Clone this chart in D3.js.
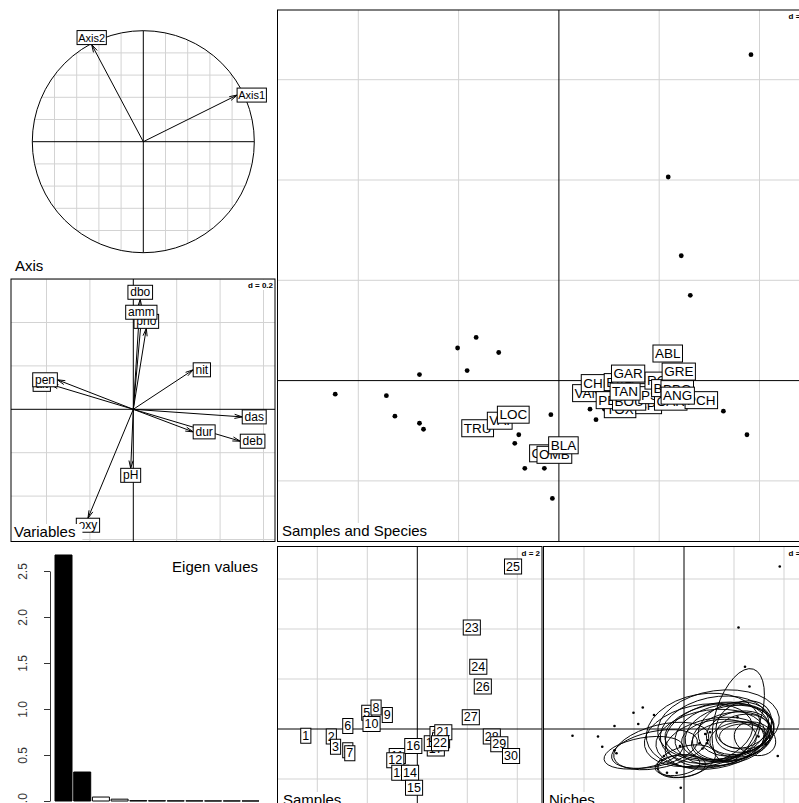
<!DOCTYPE html>
<html><head><meta charset="utf-8">
<script src="https://cdn.jsdelivr.net/npm/d3@7"></script>
<style>
body{margin:0;background:#fff;}
svg{display:block;font-family:"Liberation Sans",Arial,sans-serif;}
</style></head><body>
<svg id="chart" width="799" height="803"></svg>
<script>
// ---- data -------------------------------------------------------------
// projection of the PCA axes on the niche axes (unit circle)
const axisNames = ["Axis1", "Axis2"];
const axisX = [0.845, -0.465];
const axisY = [0.42, 0.875];

// environmental variables (canonical weights)
const varNames = ["das","alt","pen","deb","pH","dur","pho","nit","amm","oxy","dbo"];
const varX = [0.502,-0.382,-0.350,0.493,-0.012,0.276,0.060,0.276,0.037,-0.209,0.032];
const varY = [-0.035,0.115,0.136,-0.147,-0.272,-0.104,0.373,0.182,0.415,-0.502,0.507];

// eigen values
const eigenValues = [2.674,0.315,0.043,0.02,0.004,0.003,0.002,0.002,0.001,0.001,0.0005];
const eigenTicks = [0, 0.5, 1.0, 1.5, 2.0, 2.5];

// sites (samples)
const sampleNames = ["1","2","3","4","5","6","7","8","9","10","11","12","13","14","15",
  "16","17","18","19","20","21","22","23","24","25","26","27","28","29","30"];
const sampleX = [-4.46,-3.44,-3.27,-2.78,-2.02,-2.78,-2.70,-1.65,-1.20,-1.83,-0.80,-0.88,-0.68,-0.29,-0.13,
  -0.16,0.74,0.62,0.85,0.95,1.04,0.91,2.18,2.44,3.83,2.62,2.14,2.98,3.28,3.75];
const sampleY = [-0.27,-0.30,-0.71,-0.85,0.65,0.12,-0.97,0.86,0.56,0.20,-1.08,-1.25,-1.75,-1.75,-2.35,
  -0.68,-0.78,-0.57,-0.20,-0.45,-0.13,-0.57,4.06,2.49,6.50,1.70,0.47,-0.30,-0.61,-1.08];

// fish species (niche positions)
const speciesNames = ["CHA","TRU","VAI","LOC","OMB","BLA","HOT","TOX","VAN","CHE","BAR","SPI","GOU","BRO",
  "PER","BOU","PSO","ROT","CAR","TAN","BCO","PCH","GRE","GAR","BBO","ABL","ANG"];
const speciesX = [-0.26,-1.62,-1.18,-0.91,-0.09,0.09,1.42,1.22,0.58,0.77,1.22,1.79,1.82,1.62,
  1.06,1.40,1.92,2.04,2.23,1.32,2.18,2.84,2.39,1.38,2.36,2.17,2.37];
const speciesY = [-1.45,-0.95,-0.80,-0.68,-1.48,-1.29,-0.09,-0.57,-0.25,-0.05,-0.03,-0.49,-0.19,-0.23,
  -0.39,-0.42,-0.29,0.00,-0.42,-0.22,-0.15,-0.39,0.18,0.14,-0.17,0.54,-0.30];
// niche ellipses: semi-axes and orientation (degrees)
const nicheRx = [0.90,1.60,1.75,1.95,0.95,1.20,2.20,2.00,2.20,2.30,2.20,1.50,1.80,2.00,
  2.20,1.50,1.60,1.50,1.20,2.10,1.30,0.85,1.15,2.45,1.10,1.95,0.95];
const nicheRy = [0.40,0.60,0.70,0.85,0.45,0.60,1.10,1.00,1.20,1.45,1.30,0.80,1.10,1.20,
  1.15,0.80,0.95,1.05,0.70,1.25,0.85,0.65,0.90,1.40,0.75,0.90,0.50];
const nicheAngle = [8,10,12,14,5,15,8,10,12,10,12,6,12,10,8,5,10,15,5,12,12,-20,25,8,10,72,0];

// ---- helpers ----------------------------------------------------------
const svg = d3.select("#chart");
const FONT = '"Liberation Sans", Arial, sans-serif';
const GRID = "#d3d3d3";
let clipId = 0;

function measure(txt, size, weight) {
  const t = svg.append("text").attr("font-size", size).attr("font-weight", weight || "normal").text(txt);
  const w = t.node().getComputedTextLength();
  t.remove();
  return w;
}

// boxed label centred on (cx, cy)
function boxLabel(g, cx, cy, txt, size, pad, h) {
  const w = measure(txt, size) + 2 * pad;
  g.append("rect").attr("x", cx - w / 2).attr("y", cy - h / 2).attr("width", w).attr("height", h)
    .attr("fill", "#fff").attr("stroke", "#000").attr("stroke-width", 1);
  g.append("text").attr("x", cx).attr("y", cy).attr("text-anchor", "middle")
    .attr("dominant-baseline", "central").attr("font-size", size).text(txt);
}

// label placed outside an arrow tip, following the arrow direction
function circLabel(g, px, py, ux, uy, txt, size, pad, h) {
  const w = measure(txt, size) + 2 * pad;
  let cx = px, cy = py;
  if (ux > uy && ux > -uy) cx = px + w / 2;
  else if (ux > uy && ux <= -uy) cy = py + h / 2;
  else if (ux <= uy && ux <= -uy) cx = px - w / 2;
  else cy = py - h / 2;
  boxLabel(g, cx, cy, txt, size, pad, h);
}

function arrow(g, x0, y0, x1, y1) {
  g.append("line").attr("x1", x0).attr("y1", y0).attr("x2", x1).attr("y2", y1)
    .attr("stroke", "#000").attr("stroke-width", 1);
  const a = Math.atan2(y1 - y0, x1 - x0), L = 8, s = 15 * Math.PI / 180;
  [a + Math.PI - s, a + Math.PI + s].forEach(b => {
    g.append("line").attr("x1", x1).attr("y1", y1)
      .attr("x2", x1 + L * Math.cos(b)).attr("y2", y1 + L * Math.sin(b))
      .attr("stroke", "#000").attr("stroke-width", 1);
  });
}

// a square scatter panel with grid, axes, frame and "d = " legend
function panel(box, ox, oy, k, d, dText) {
  const x = d3.scaleLinear().domain([(box.x0 - ox) / k, (box.x1 - ox) / k]).range([box.x0, box.x1]);
  const y = d3.scaleLinear().domain([(oy - box.y1) / k, (oy - box.y0) / k]).range([box.y1, box.y0]);
  const id = "clip" + (clipId++);
  svg.append("clipPath").attr("id", id).append("rect")
    .attr("x", box.x0).attr("y", box.y0).attr("width", box.x1 - box.x0).attr("height", box.y1 - box.y0);
  const g = svg.append("g").attr("clip-path", `url(#${id})`);
  const xs = d3.range(Math.ceil(x.domain()[0] / d) * d, x.domain()[1], d).filter(v => Math.abs(v) > 1e-9);
  const ys = d3.range(Math.ceil(y.domain()[0] / d) * d, y.domain()[1], d).filter(v => Math.abs(v) > 1e-9);
  g.selectAll(null).data(xs).join("line").attr("x1", v => x(v)).attr("x2", v => x(v))
    .attr("y1", box.y0).attr("y2", box.y1).attr("stroke", GRID);
  g.selectAll(null).data(ys).join("line").attr("y1", v => y(v)).attr("y2", v => y(v))
    .attr("x1", box.x0).attr("x2", box.x1).attr("stroke", GRID);
  g.append("line").attr("x1", x(0)).attr("x2", x(0)).attr("y1", box.y0).attr("y2", box.y1).attr("stroke", "#000");
  g.append("line").attr("y1", y(0)).attr("y2", y(0)).attr("x1", box.x0).attr("x2", box.x1).attr("stroke", "#000");
  // d legend
  const dw = measure(dText, 8, "bold");
  g.append("rect").attr("x", box.x1 - dw - 4).attr("y", box.y0 + 1).attr("width", dw + 3).attr("height", 10).attr("fill", "#fff");
  g.append("text").attr("x", box.x1 - 2).attr("y", box.y0 + 9).attr("text-anchor", "end")
    .attr("font-size", 8).attr("font-weight", "bold").text(dText);
  svg.append("rect").attr("x", box.x0).attr("y", box.y0).attr("width", box.x1 - box.x0).attr("height", box.y1 - box.y0)
    .attr("fill", "none").attr("stroke", "#000");
  return {x, y, g, box};
}

function subTitle(g, x0, yBase, txt) {
  const w = measure(txt, 15);
  g.append("rect").attr("x", x0 - 3).attr("y", yBase - 13).attr("width", w + 10).attr("height", 18).attr("fill", "#fff");
  g.append("text").attr("x", x0).attr("y", yBase).attr("font-size", 15).text(txt);
}

// ---- 1. correlation circle of the axes --------------------------------
{
  const cx = 143.3, cy = 141.7, r = 111;
  const s = d3.scaleLinear().domain([-1, 1]).range([cx - r, cx + r]);
  const sy = d3.scaleLinear().domain([-1, 1]).range([cy + r, cy - r]);
  const g = svg.append("g");
  const steps = [-0.8, -0.6, -0.4, -0.2, 0.2, 0.4, 0.6, 0.8];
  steps.forEach(v => {
    const h = Math.sqrt(1 - v * v);
    g.append("line").attr("x1", s(v)).attr("x2", s(v)).attr("y1", sy(h)).attr("y2", sy(-h)).attr("stroke", GRID);
    g.append("line").attr("y1", sy(v)).attr("y2", sy(v)).attr("x1", s(-h)).attr("x2", s(h)).attr("stroke", GRID);
  });
  g.append("circle").attr("cx", cx).attr("cy", cy).attr("r", r).attr("fill", "none").attr("stroke", "#000");
  g.append("line").attr("x1", s(-1)).attr("x2", s(1)).attr("y1", cy).attr("y2", cy).attr("stroke", "#000");
  g.append("line").attr("y1", sy(-1)).attr("y2", sy(1)).attr("x1", cx).attr("x2", cx).attr("stroke", "#000");
  axisNames.forEach((n, i) => arrow(g, s(0), sy(0), s(axisX[i]), sy(axisY[i])));
  axisNames.forEach((n, i) => circLabel(g, s(axisX[i]), sy(axisY[i]), axisX[i], axisY[i], n, 11, 1.2, 14));
  g.append("text").attr("x", 15).attr("y", 271).attr("font-size", 15).text("Axis");
}

// ---- 2. variables -----------------------------------------------------
{
  const p = panel({x0: 11, y0: 279, x1: 275, y1: 541.5}, 133.3, 409.3, 217, 0.2, "d = 0.2");
  const {x, y, g} = p;
  varNames.forEach((n, i) => arrow(g, x(0), y(0), x(varX[i]), y(varY[i])));
  varNames.forEach((n, i) => circLabel(g, x(varX[i]), y(varY[i]), varX[i], varY[i], n, 12, 2.3, 14));
  subTitle(g, 14, 537, "Variables");
}

// ---- 3. eigen values --------------------------------------------------
{
  const g = svg.append("g");
  const y = d3.scaleLinear().domain([0, 2.5]).range([801, 571]);
  const x = d3.scaleBand().domain(d3.range(eigenValues.length)).range([55, 259]).paddingInner(0.09).paddingOuter(0);
  g.selectAll(null).data(eigenValues).join("path")
    .attr("d", (v, i) => `M${x(i)},${y(0)}H${x(i) + x.bandwidth()}V${y(v)}H${x(i)}Z`)
    .attr("fill", (v, i) => i < 2 ? "#000" : "#fff").attr("stroke", "#000").attr("stroke-width", 1);
  const ax = g.append("g").attr("transform", "translate(50,0)")
    .call(d3.axisLeft(y).tickValues(eigenTicks).tickFormat(d3.format(".1f")).tickSize(6).tickSizeOuter(0));
  ax.select(".domain").attr("stroke", "#333");
  ax.selectAll(".tick line").attr("stroke", "#333");
  ax.selectAll(".tick text").attr("x", 0).attr("dy", 0).attr("text-anchor", "middle")
    .attr("transform", "translate(-23,0) rotate(-90)").attr("font-size", 12)
    .attr("font-family", FONT).attr("fill", "#333");
  g.append("text").attr("x", 258).attr("y", 572).attr("text-anchor", "end").attr("font-size", 15).text("Eigen values");
}

// ---- 4. samples and species -------------------------------------------
{
  const p = panel({x0: 277.5, y0: 10, x1: 809, y1: 541.5}, 558.9, 380.6, 50.15, 2, "d = 2");
  const {x, y, g} = p;
  g.selectAll(null).data(sampleNames).join("circle")
    .attr("cx", (n, i) => x(sampleX[i])).attr("cy", (n, i) => y(sampleY[i])).attr("r", 2.4).attr("fill", "#000");
  subTitle(g, 282, 536, "Samples and Species");
  speciesNames.forEach((n, i) => boxLabel(g, x(speciesX[i]), y(speciesY[i]), n, 13.5, 2, 17));
}

// ---- 5. samples -------------------------------------------------------
{
  const p = panel({x0: 277.5, y0: 546.5, x1: 542, y1: 812}, 417.3, 729, 25, 2, "d = 2");
  const {x, y, g} = p;
  sampleNames.forEach((n, i) => boxLabel(g, x(sampleX[i]), y(sampleY[i]), n, 12.5, 1.6, 15));
  subTitle(g, 283, 805, "Samples");
}

// ---- 6. niches --------------------------------------------------------
{
  const p = panel({x0: 543.5, y0: 546.5, x1: 809, y1: 812}, 684, 729, 25, 2, "d = 2");
  const {x, y, g} = p;
  speciesNames.forEach((n, i) => {
    const cx = x(speciesX[i]), cy = y(speciesY[i]);
    g.append("ellipse").attr("cx", cx).attr("cy", cy)
      .attr("rx", x(nicheRx[i]) - x(0)).attr("ry", y(0) - y(nicheRy[i]))
      .attr("transform", `rotate(${-nicheAngle[i]},${cx},${cy})`)
      .attr("fill", "none").attr("stroke", "#000").attr("stroke-width", 0.9);
  });
  g.selectAll(null).data(sampleNames).join("circle")
    .attr("cx", (n, i) => x(sampleX[i])).attr("cy", (n, i) => y(sampleY[i])).attr("r", 1.3).attr("fill", "#000");
  subTitle(g, 549, 805, "Niches");
}
</script>
</body></html>
